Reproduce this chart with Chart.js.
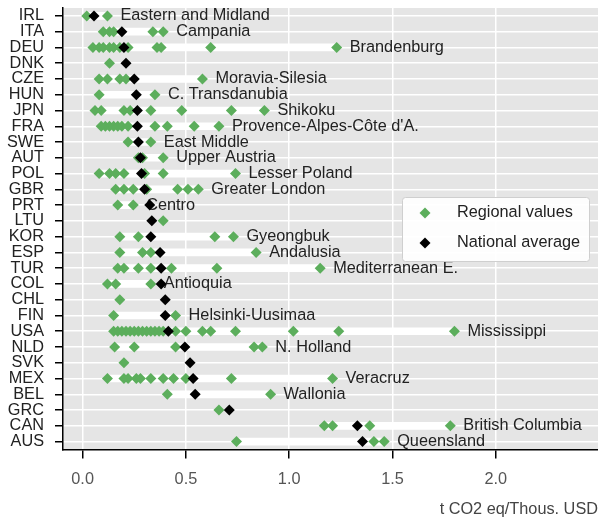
<!DOCTYPE html>
<html>
<head>
<meta charset="utf-8">
<script src="https://cdn.jsdelivr.net/npm/chart.js@4"></script>
<style>
html, body { margin: 0; padding: 0; background: #fff; }
#wrap { width: 598px; height: 520px; }
</style>
</head>
<body>
<div id="wrap"><canvas id="chart"></canvas></div>
<script>
// data
const countries = ["IRL","ITA","DEU","DNK","CZE","HUN","JPN","FRA","SWE","AUT","POL","GBR","PRT","LTU",
  "KOR","ESP","TUR","COL","CHL","FIN","USA","NLD","SVK","MEX","BEL","GRC","CAN","AUS"];

const regional = [
  [0.02, 0.12],
  [0.10, 0.13, 0.15, 0.34, 0.39],
  [0.05, 0.08, 0.10, 0.13, 0.15, 0.18, 0.22, 0.36, 0.38, 0.62, 1.23],
  [0.13],
  [0.08, 0.12, 0.18, 0.21, 0.58],
  [0.08, 0.35],
  [0.06, 0.09, 0.20, 0.23, 0.33, 0.48, 0.72, 0.88],
  [0.09, 0.11, 0.13, 0.15, 0.17, 0.19, 0.22, 0.35, 0.41, 0.54, 0.66],
  [0.22, 0.33],
  [0.27, 0.29, 0.39],
  [0.08, 0.13, 0.16, 0.20, 0.30, 0.39, 0.74],
  [0.16, 0.20, 0.245, 0.31, 0.46, 0.51, 0.56],
  [0.17, 0.245],
  [0.39],
  [0.18, 0.27, 0.64, 0.73],
  [0.18, 0.29, 0.33, 0.84],
  [0.17, 0.20, 0.27, 0.33, 0.43, 0.65, 1.15],
  [0.12, 0.16, 0.33],
  [0.18],
  [0.15, 0.45],
  [0.15, 0.17, 0.19, 0.21, 0.23, 0.25, 0.27, 0.29, 0.31, 0.33, 0.35, 0.37, 0.39, 0.45, 0.50, 0.58, 0.62, 0.74, 1.02, 1.24, 1.80],
  [0.155, 0.25, 0.45, 0.83, 0.87],
  [0.20],
  [0.12, 0.20, 0.22, 0.26, 0.28, 0.33, 0.39, 0.44, 0.50, 0.72, 1.21],
  [0.41, 0.91],
  [0.66],
  [1.17, 1.21, 1.39, 1.78],
  [0.745, 1.41, 1.46]
];

const national = [0.055, 0.19, 0.20, 0.21, 0.25, 0.26, 0.265, 0.265, 0.27, 0.28, 0.285, 0.30, 0.325, 0.335,
  0.33, 0.375, 0.38, 0.38, 0.40, 0.40, 0.415, 0.495, 0.52, 0.535, 0.545, 0.71, 1.33, 1.355];

const regionNames = ["Eastern and Midland", "Campania", "Brandenburg", "", "Moravia-Silesia", "C. Transdanubia",
  "Shikoku", "Provence-Alpes-Côte d'A.", "East Middle", "Upper Austria", "Lesser Poland", "Greater London",
  "Centro", "", "Gyeongbuk", "Andalusia", "Mediterranean E.", "Antioquia", "", "Helsinki-Uusimaa",
  "Mississippi", "N. Holland", "", "Veracruz", "Wallonia", "", "British Columbia", "Queensland"];

const xTicks = [0, 0.5, 1.0, 1.5, 2.0];
const xTitle = "t CO2 eq/Thous. USD";
const legendNames = ["Regional values", "National average"];

const GREEN = "#5cae5c";
const FONT = '"Liberation Sans", Arial, sans-serif';
const FSIZE = 16.3;

const rangeData = regional.map(r => r.length > 1 ? [Math.min(...r), Math.max(...r)] : null);
const greenPoints = [];
regional.forEach((r, i) => r.forEach(v => greenPoints.push({x: v, y: countries[i]})));
const blackPoints = national.map((v, i) => ({x: v, y: countries[i]}));

// grey panel behind the plot
const plotBg = {
  id: "plotBg",
  beforeDraw(chart) {
    const {ctx, chartArea: a} = chart;
    ctx.save();
    ctx.fillStyle = "#e5e5e5";
    ctx.fillRect(a.left, a.top, a.right - a.left, a.bottom - a.top);
    ctx.restore();
  }
};

// names of the highest region, right of its marker
const regionText = {
  id: "regionText",
  beforeDatasetsDraw(chart) {
    const {ctx, scales} = chart;
    ctx.save();
    ctx.font = FSIZE + "px " + FONT;
    ctx.fillStyle = "#222";
    ctx.textBaseline = "middle";
    ctx.textAlign = "left";
    regionNames.forEach((name, i) => {
      if (!name) return;
      const maxV = Math.max(...regional[i]);
      ctx.fillText(name, scales.x.getPixelForValue(maxV) + 13, scales.y.getPixelForValue(i));
    });
    ctx.restore();
  }
};

function diamond(ctx, x, y, r, color) {
  ctx.fillStyle = color;
  ctx.beginPath();
  ctx.moveTo(x, y - r);
  ctx.lineTo(x + r, y);
  ctx.lineTo(x, y + r);
  ctx.lineTo(x - r, y);
  ctx.closePath();
  ctx.fill();
}

const legendBox = {
  id: "legendBox",
  afterDraw(chart) {
    const ctx = chart.ctx;
    ctx.save();
    ctx.fillStyle = "rgba(255,255,255,0.92)";
    ctx.strokeStyle = "#cfcfcf";
    ctx.lineWidth = 1;
    ctx.beginPath();
    ctx.roundRect(402.5, 197.5, 187, 64, 3);
    ctx.fill();
    ctx.stroke();
    diamond(ctx, 425, 213, 5.5, GREEN);
    diamond(ctx, 425, 243, 5.5, "#000");
    ctx.font = FSIZE + "px " + FONT;
    ctx.fillStyle = "#222";
    ctx.textBaseline = "middle";
    ctx.fillText(legendNames[0], 457, 213);
    ctx.fillText(legendNames[1], 457, 243);
    ctx.restore();
  }
};

new Chart(document.getElementById("chart"), {
  type: "scatter",
  data: {
    labels: countries,
    datasets: [
      {
        type: "bar",
        indexAxis: "y",
        data: rangeData,
        backgroundColor: "#ffffff",
        borderWidth: 0,
        barThickness: 7,
        order: 3
      },
      {
        label: legendNames[0],
        data: greenPoints,
        pointStyle: "rectRot",
        pointRadius: 5.5,
        pointBackgroundColor: GREEN,
        pointBorderWidth: 0,
        order: 2
      },
      {
        label: legendNames[1],
        data: blackPoints,
        pointStyle: "rectRot",
        pointRadius: 5.5,
        pointBackgroundColor: "#000",
        pointBorderWidth: 0,
        order: 1
      }
    ]
  },
  options: {
    responsive: true,
    maintainAspectRatio: false,
    animation: false,
    layout: { autoPadding: false, padding: { left: 7, top: 8, right: 0, bottom: 1 } },
    plugins: { legend: { display: false }, tooltip: { enabled: false } },
    scales: {
      x: {
        type: "linear",
        min: -0.095,
        max: 2.495,
        offset: false,
        afterBuildTicks: s => { s.ticks = xTicks.map(v => ({ value: v })); },
        afterFit: s => { s.height = 69.5; s.paddingLeft = 0; s.paddingRight = 0; },
        ticks: {
          callback: v => v.toFixed(1),
          color: "#555",
          padding: 11,
          font: { family: FONT, size: FSIZE }
        },
        grid: { color: "#fff", lineWidth: 1.5, tickColor: "#000", tickLength: 9, offset: false },
        border: { color: "#000", width: 1.5 },
        title: {
          display: true,
          text: xTitle,
          align: "end",
          color: "#444",
          font: { family: FONT, size: FSIZE },
          padding: { top: 10, bottom: 0 }
        }
      },
      y: {
        type: "category",
        offset: true,
        afterFit: s => { s.width = 56; s.paddingTop = 0; s.paddingBottom = 0; },
        ticks: {
          autoSkip: false,
          color: "#222",
          padding: 11,
          font: { family: FONT, size: FSIZE }
        },
        grid: { color: "#fff", lineWidth: 1.5, tickColor: "#000", tickLength: 8, offset: false },
        border: { color: "#000", width: 1.5 }
      }
    }
  },
  plugins: [plotBg, regionText, legendBox]
});
</script>
</body>
</html>
